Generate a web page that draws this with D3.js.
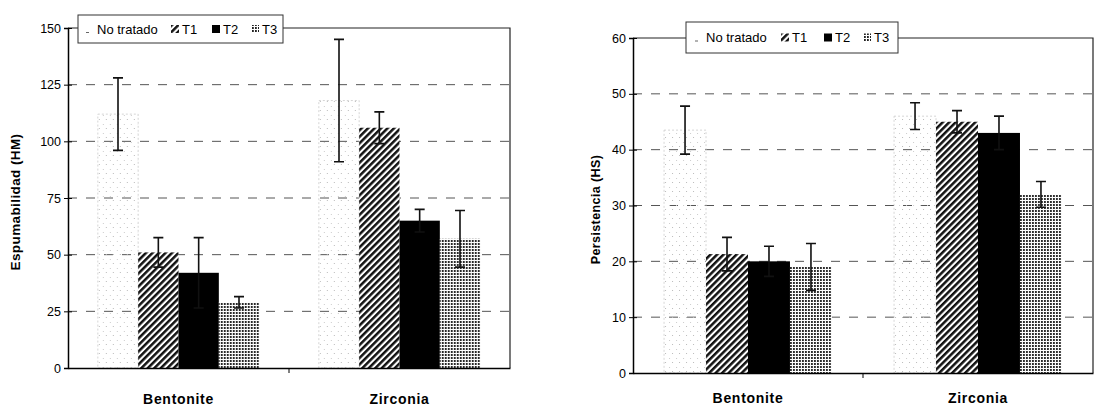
<!DOCTYPE html>
<html>
<head>
<meta charset="utf-8">
<script src="https://cdn.jsdelivr.net/npm/d3@7"></script>
<style>
  body { margin: 0; background: #fff; }
  svg text { font-family: "Liberation Sans", Arial, sans-serif; }
</style>
</head>
<body>
<svg id="chart" width="1100" height="407"></svg>
<script>
// categories and series
const categories = ["Bentonite", "Zirconia"];
const series = ["No tratado", "T1", "T2", "T3"];

// Espumabilidad (HM)
const espumaValues = [[112, 51, 42, 29], [118, 106, 65, 57]];
const espumaErrors = [[16, 6.5, 15.5, 2.5], [27, 7, 5, 12.5]];
const espumaTicks = [0, 25, 50, 75, 100, 125, 150];

// Persistencia (HS)
const persisValues = [[43.5, 21.3, 20, 19], [46, 45, 43, 32]];
const persisErrors = [[4.3, 3, 2.7, 4.2], [2.4, 2, 3, 2.3]];
const persisTicks = [0, 10, 20, 30, 40, 50, 60];

const svg = d3.select("#chart");
const defs = svg.append("defs");

// no tratado: very light sparse dots
const pNo = defs.append("pattern").attr("id", "pNo")
  .attr("patternUnits", "userSpaceOnUse").attr("width", 7).attr("height", 9);
pNo.append("rect").attr("x", 1).attr("y", 2).attr("width", 1).attr("height", 1).attr("fill", "#bbb");
pNo.append("rect").attr("x", 5).attr("y", 7).attr("width", 1).attr("height", 1).attr("fill", "#ccc");

// T1: diagonal hatch
const pT1 = defs.append("pattern").attr("id", "pT1")
  .attr("patternUnits", "userSpaceOnUse").attr("width", 4.6).attr("height", 4.6)
  .attr("patternTransform", "rotate(45)");
pT1.append("rect").attr("width", 4.6).attr("height", 4.6).attr("fill", "#fff");
pT1.append("rect").attr("width", 2.5).attr("height", 4.6).attr("fill", "#111");

// T3: dense dotted columns
const pT3 = defs.append("pattern").attr("id", "pT3")
  .attr("patternUnits", "userSpaceOnUse").attr("width", 3).attr("height", 3);
pT3.append("rect").attr("width", 3).attr("height", 3).attr("fill", "#fff");
pT3.append("rect").attr("x", 0).attr("y", 0).attr("width", 1.8).attr("height", 2).attr("fill", "#222");

const fills = ["url(#pNo)", "url(#pT1)", "#000", "url(#pT3)"];

function drawPanel(p) {
  const g = svg.append("g");
  const y = d3.scaleLinear().domain([0, d3.max(p.ticks)]).range([p.bottom, p.top]);
  const x0 = d3.scaleBand().domain(categories).range([p.left, p.right])
    .paddingInner(0.27).paddingOuter(0.135);
  const x1 = d3.scaleBand().domain(series).range([0, x0.bandwidth()]);

  // dashed grid lines
  g.append("g").selectAll("line").data(p.ticks.filter(t => t > 0 && t < d3.max(p.ticks)))
    .join("line")
    .attr("x1", p.left).attr("x2", p.right)
    .attr("y1", d => y(d)).attr("y2", d => y(d))
    .attr("stroke", "#555").attr("stroke-width", 1).attr("stroke-dasharray", "9,9");

  // plot frame (top and right)
  g.append("path")
    .attr("d", `M${p.left},${p.top}H${p.right}V${p.bottom}`)
    .attr("fill", "none").attr("stroke", "#222").attr("stroke-width", 1.2);

  // bars
  const groups = g.append("g").selectAll("g").data(categories).join("g")
    .attr("transform", c => `translate(${x0(c)},0)`);
  groups.each(function(c, ci) {
    const gg = d3.select(this);
    series.forEach((s, si) => {
      const v = p.values[ci][si];
      gg.append("rect")
        .attr("x", x1(s)).attr("y", y(v))
        .attr("width", x1.bandwidth()).attr("height", y(0) - y(v))
        .attr("fill", fills[si])
        .attr("stroke", si === 0 ? "#ccc" : "none")
        .attr("stroke-dasharray", si === 0 ? "2,2" : null)
        .attr("stroke-width", 0.8);
    });
  });
  // error bars
  groups.each(function(c, ci) {
    const gg = d3.select(this);
    series.forEach((s, si) => {
      const v = p.values[ci][si], e = p.errors[ci][si];
      const cx = x1(s) + x1.bandwidth() / 2;
      gg.append("path")
        .attr("d", `M${cx},${y(v - e)}V${y(v + e)}M${cx - 5},${y(v + e)}H${cx + 5}M${cx - 5},${y(v - e)}H${cx + 5}`)
        .attr("stroke", "#111").attr("stroke-width", 1.6).attr("fill", "none");
    });
  });

  // y axis
  const yAxis = g.append("g").attr("transform", `translate(${p.left},0)`)
    .call(d3.axisLeft(y).tickValues(p.ticks).tickSize(4));
  yAxis.select(".domain").attr("stroke", "#000").attr("stroke-width", 1.5);
  yAxis.selectAll(".tick line").attr("x2", 4).attr("x1", -4).attr("stroke", "#000");
  yAxis.selectAll(".tick text").attr("x", -7).attr("font-size", 12.5)
    .attr("font-family", "Liberation Sans, Arial, sans-serif");

  // x axis
  const xAxis = g.append("g").attr("transform", `translate(0,${p.bottom})`)
    .call(d3.axisBottom(x0).tickSize(0));
  xAxis.select(".domain").attr("stroke", "#000").attr("stroke-width", 1.5);
  xAxis.selectAll(".tick text").attr("dy", 0).attr("y", p.xLabelY)
    .attr("font-size", 14).attr("font-weight", "bold").attr("letter-spacing", 0.7)
    .attr("font-family", "Liberation Sans, Arial, sans-serif");
  // middle tick between categories
  g.append("line").attr("x1", (p.left + p.right) / 2).attr("x2", (p.left + p.right) / 2)
    .attr("y1", p.bottom).attr("y2", p.bottom + 5).attr("stroke", "#000");

  // y label
  g.append("text")
    .attr("transform", `translate(${p.labelX},${(p.top + p.bottom) / 2 + 4}) rotate(-90)`)
    .attr("text-anchor", "middle").attr("font-size", p.labelSize).attr("font-weight", "bold")
    .attr("letter-spacing", 0.4)
    .text(p.label);

  // legend
  const L = p.legend;
  g.append("rect").attr("x", L.x).attr("y", L.y).attr("width", L.w).attr("height", L.h)
    .attr("fill", "#fff").attr("stroke", "#333").attr("stroke-width", 1);
  const ly = L.y + L.h / 2;
  series.forEach((s, si) => {
    const sx = L.items[si];
    if (si > 0) {
      g.append("rect").attr("x", sx).attr("y", ly - 4).attr("width", 8).attr("height", 8)
        .attr("fill", fills[si]);
    } else {
      g.append("rect").attr("x", sx).attr("y", ly + 3).attr("width", 3).attr("height", 1)
        .attr("fill", "#666");
    }
    g.append("text").attr("x", sx + 11).attr("y", ly + 4.5)
      .attr("font-size", 13).text(s);
  });
}

drawPanel({
  values: espumaValues, errors: espumaErrors, ticks: espumaTicks,
  left: 68, right: 510, top: 28, bottom: 368, xLabelY: 36,
  label: "Espumabilidad (HM)", labelX: 20, labelSize: 13.5,
  legend: { x: 78, y: 15, w: 205, h: 28, items: [86, 171, 212, 251] }
});

drawPanel({
  values: persisValues, errors: persisErrors, ticks: persisTicks,
  left: 633, right: 1093, top: 38, bottom: 373, xLabelY: 30,
  label: "Persistencia (HS)", labelX: 600, labelSize: 12.5,
  legend: { x: 686, y: 22, w: 212, h: 31, items: [695, 781, 824, 863] }
});
</script>
</body>
</html>
